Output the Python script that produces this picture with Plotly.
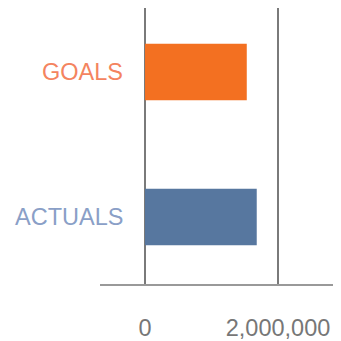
import plotly.graph_objects as go

categories = ["ACTUALS", "GOALS"]
values = [1680000, 1530000]
bar_colors = ["#57779F", "#F37021"]
label_colors = ["#8A9FC7", "#F4845F"]
tick_vals = [0, 2000000]
tick_text = ["0", "2,000,000"]

fig = go.Figure()
fig.add_trace(go.Bar(
    y=categories, x=values, orientation="h",
    marker=dict(color=bar_colors, line=dict(width=0)),
    width=0.39,
))

for cat, col in zip(categories, label_colors):
    fig.add_annotation(
        x=0, y=cat, xref="x", yref="y", text=cat, showarrow=False,
        xanchor="right", yanchor="middle", xshift=-20,
        font=dict(family="Liberation Sans, Arial, sans-serif", size=23.5, color=col),
    )

fig.update_layout(
    width=333, height=333,
    margin=dict(l=92, r=0, t=0, b=53, pad=0),
    paper_bgcolor="white", plot_bgcolor="white",
    showlegend=False,
    xaxis=dict(
        range=[-677000, 2947000],
        tickvals=tick_vals, ticktext=tick_text,
        showgrid=True, gridcolor="#7a7a7a", gridwidth=1.5,
        zeroline=False,
        showline=True, linecolor="#999999", linewidth=1.5,
        ticks="", ticklabelstandoff=22,
        tickfont=dict(family="Liberation Sans, Arial, sans-serif", size=23.5, color="#777777"),
        fixedrange=True,
    ),
    yaxis=dict(
        range=[-0.463, 1.442],
        showticklabels=False, showgrid=False, zeroline=False, showline=False,
        fixedrange=True,
    ),
)

fig.write_html("out.html")
